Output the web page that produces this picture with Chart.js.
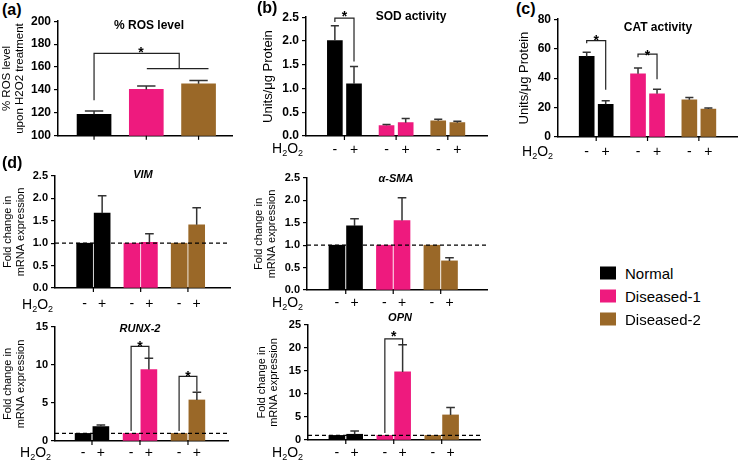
<!DOCTYPE html>
<html>
<head>
<meta charset="utf-8">
<script src="https://cdn.jsdelivr.net/npm/chart.js@4.4.1/dist/chart.umd.min.js"></script>
<style>
html,body{margin:0;padding:0;background:#fff;}
body{width:738px;height:461px;position:relative;overflow:hidden;font-family:"Liberation Sans",Arial,sans-serif;color:#000;}
.t{position:absolute;white-space:nowrap;transform:translate(-50%,-50%);font-weight:bold;font-size:12px;}
.t.i{font-style:italic;font-size:11px;}
.lbl{position:absolute;font-weight:bold;font-size:16px;transform:translateY(-50%);background:#fff;}
.h2{position:absolute;font-size:14px;transform:translateY(-50%);white-space:nowrap;}
.h2 sub{font-size:9px;vertical-align:-3px;}
.leg{position:absolute;left:600px;font-size:15px;transform:translateY(-50%);white-space:nowrap;}
.leg i{display:inline-block;width:16px;height:13px;vertical-align:-1px;margin-right:9px;}
</style>
</head>
<body>
<script>
/* ── DATA ── */
var GROUPS = ['Normal', 'Diseased-1', 'Diseased-2'];
var TREAT = ['-', '+'];

var ROS_MEAN = [118.8, 140.5, 145.4];
var ROS_SEM  = [2.9, 2.9, 2.9];

var SOD_MEAN = [[2.01, 1.10], [0.22, 0.28], [0.32, 0.28]];
var SOD_SEM  = [[0.31, 0.36], [0.02, 0.09], [0.035, 0.03]];

var CAT_MEAN = [[54.7, 22.2], [42.9, 29.4], [25.3, 19.0]];
var CAT_SEM  = [[2.9, 2.5], [3.9, 3.1], [1.6, 0.7]];

var VIM_MEAN = [[1, 1.67], [1, 1.02], [1, 1.41]];
var VIM_SEM  = [[0, 0.39], [0, 0.19], [0, 0.38]];

var SMA_MEAN = [[1, 1.43], [1, 1.55], [1, 0.65]];
var SMA_SEM  = [[0, 0.16], [0, 0.51], [0, 0.07]];

var RUNX_MEAN = [[1, 1.9], [1, 9.4], [1, 5.4]];
var RUNX_SEM  = [[0, 0.2], [0, 1.5], [0, 1.0]];

var OPN_MEAN = [[1, 1.25], [1, 14.8], [1, 5.45]];
var OPN_SEM  = [[0, 0.7], [0, 5.9], [0, 1.6]];

/* significance brackets, in data units (x = bar slot, y = value) */
var ROS_SIG  = [[[0,131],[0,172],[1.63,172],[1.63,158.7]], [[1.01,158.7],[2.19,158.7]]];
var SOD_SIG  = [[[0,2.4],[0,2.48],[1,2.48],[1,1.57]]];
var CAT_SIG  = [[[0,63.7],[0,65.5],[1,65.5],[1,32.1]], [[2.7,54.2],[2.7,56.3],[3.7,56.3],[3.7,39.3]]];
var RUNX_SIG = [[[2.7,1.3],[2.7,12.45],[3.7,12.45],[3.7,10.9]], [[5.4,1.3],[5.4,8.5],[6.4,8.5],[6.4,6.5]]];
var OPN_SIG  = [[[2.7,1.5],[2.7,22],[3.7,22],[3.7,20.7]]];

/* ── STYLE ── */
var COLORS = ['#000000', '#EE1A7E', '#9A6828'];
var GAP = 2.7;
var F = '"Liberation Sans", Arial, sans-serif';

function extras(o){
  return {id:'extras', afterDatasetsDraw:function(c){
    var ctx=c.ctx, xs=c.scales.x, ys=c.scales.y, a=c.chartArea;
    ctx.save();
    // error bars (upper half only)
    c.data.datasets.forEach(function(ds,di){
      c.getDatasetMeta(di).data.forEach(function(bar,i){
        var e=ds.errs[i]; if(!e) return;
        var v=ds.data[i].y, x=bar.x, y0=ys.getPixelForValue(v), y1=ys.getPixelForValue(v+e), hw=bar.width*0.27;
        ctx.strokeStyle='#333'; ctx.lineWidth=1.5;
        ctx.beginPath(); ctx.moveTo(x,y0); ctx.lineTo(x,y1); ctx.moveTo(x-hw,y1); ctx.lineTo(x+hw,y1); ctx.stroke();
      });
    });
    // reference line at 1
    if(o.ref!=null){
      var yr=ys.getPixelForValue(o.ref);
      ctx.setLineDash([4,3]); ctx.strokeStyle='#000'; ctx.lineWidth=1.2;
      ctx.beginPath(); ctx.moveTo(a.left,yr); ctx.lineTo(a.right,yr); ctx.stroke();
      ctx.setLineDash([]);
    }
    // brackets + stars
    (o.sig||[]).forEach(function(b){
      ctx.strokeStyle='#222'; ctx.lineWidth=1.2; ctx.beginPath();
      b.forEach(function(p,j){var px=xs.getPixelForValue(p[0]), py=ys.getPixelForValue(p[1]); if(j) ctx.lineTo(px,py); else ctx.moveTo(px,py);});
      ctx.stroke();
    });
    (o.stars||[]).forEach(function(s){
      ctx.fillStyle='#000'; ctx.font='bold 14px '+F; ctx.textAlign='center'; ctx.textBaseline='alphabetic';
      ctx.fillText('*', xs.getPixelForValue(s[0]), ys.getPixelForValue(s[1])+8);
    });
    // x tick marks
    (o.marks||[]).forEach(function(v){
      var px=xs.getPixelForValue(v);
      ctx.strokeStyle='#000'; ctx.lineWidth=1.2;
      ctx.beginPath(); ctx.moveTo(px,a.bottom); ctx.lineTo(px,a.bottom+4); ctx.stroke();
    });
    ctx.restore();
  }};
}

function panel(p){
  var cv=document.createElement('canvas');
  cv.width=p.box[2]; cv.height=p.box[3];
  cv.style.cssText='position:absolute;left:'+p.box[0]+'px;top:'+p.box[1]+'px;';
  document.body.appendChild(cv);
  var paired=Array.isArray(p.mean[0]);
  var slots=[];
  var datasets=GROUPS.map(function(name,g){
    var m=paired?p.mean[g]:[p.mean[g]], e=paired?p.sem[g]:[p.sem[g]];
    return {
      label:name,
      data:m.map(function(v,k){var x=paired?g*GAP+k:g; slots.push(x); return {x:x,y:v};}),
      errs:e, backgroundColor:COLORS[g], borderWidth:0, grouped:false, barThickness:p.bw
    };
  });
  slots.sort(function(a,b){return a-b;});
  new Chart(cv.getContext('2d'),{
    type:'bar',
    data:{datasets:datasets},
    options:{
      responsive:false, animation:false,
      layout:{padding:{top:p.pt,right:p.pr,left:0,bottom:0}},
      plugins:{legend:{display:false},tooltip:{enabled:false}},
      scales:{
        x:{type:'linear', min:p.xr[0], max:p.xr[1],
           border:{display:true,color:'#000',width:1.5},
           grid:{display:false,drawTicks:false},
           afterBuildTicks:function(s){ s.ticks=paired?slots.map(function(v){return {value:v};}):[]; },
           ticks:{display:paired, autoSkip:false, maxRotation:0, minRotation:0, padding:p.sp,
                  font:{size:14,family:F}, color:'#000',
                  callback:function(v,i){return TREAT[i%2];}},
           afterFit:function(s){s.height=p.xh;}},
        y:{min:p.yr[0], max:p.yr[1],
           ticks:{stepSize:p.step, color:'#000', font:{size:p.tf,weight:'bold',family:F}, padding:3,
                  callback:function(v){return v.toFixed(p.dec);}},
           grid:{drawOnChartArea:false, drawTicks:true, tickLength:4, color:'#000', lineWidth:1.2},
           border:{color:'#000', width:1.5},
           title:{display:true, text:p.title, color:'#000', font:{size:p.yf,family:F,lineHeight:p.lh}, padding:{top:p.tp,bottom:0}},
           afterFit:function(s){s.width=p.yw;}}
      }
    },
    plugins:[extras(p)]
  });
}

var PAIR_MARKS=[0.5, 0.5+GAP, 0.5+2*GAP];

panel({box:[0,11,240,135], yw:58, pt:10, pr:8, xh:10, sp:0, bw:34, xr:[-0.69,2.64],
  mean:ROS_MEAN, sem:ROS_SEM, yr:[100,200], step:20, dec:0, tf:12,
  title:['% ROS level','upon H2O2 treatment'], yf:11.5, lh:1.1, tp:1,
  sig:ROS_SIG, stars:[[0.9,175.6]], marks:[0,1,2]});

panel({box:[258,7,235,154], yw:48, pt:10, pr:6, xh:25, sp:6, bw:15, xr:[-0.72,7.16],
  mean:SOD_MEAN, sem:SOD_SEM, yr:[0,2.5], step:0.5, dec:1, tf:12,
  title:'Units/\u03bcg Protein', yf:13, lh:1.2, tp:3,
  sig:SOD_SIG, stars:[[0.5,2.58]], marks:PAIR_MARKS});

panel({box:[510,9,228,153], yw:48, pt:10, pr:0, xh:25, sp:6.5, bw:15, xr:[-0.72,7.17],
  mean:CAT_MEAN, sem:CAT_SEM, yr:[0,80], step:20, dec:0, tf:12,
  title:'Units/\u03bcg Protein', yf:13, lh:1.2, tp:6.7,
  sig:CAT_SIG, stars:[[0.5,67.8],[3.2,57.8]], marks:PAIR_MARKS});

panel({box:[0,166,238,147], yw:55, pt:10, pr:8, xh:25, sp:8, bw:16, xr:[-0.86,7.47],
  mean:VIM_MEAN, sem:VIM_SEM, yr:[0,2.5], step:0.5, dec:1, tf:11,
  title:['Fold change in','mRNA expression'], yf:11, lh:1.15, tp:2,
  ref:1, marks:PAIR_MARKS});

panel({box:[250,168,243,147], yw:57, pt:10, pr:6, xh:25, sp:5, bw:16, xr:[-0.85,7.68],
  mean:SMA_MEAN, sem:SMA_SEM, yr:[0,2.5], step:0.5, dec:1, tf:11,
  title:['Fold change in','mRNA expression'], yf:11, lh:1.15, tp:2.7,
  ref:1, marks:PAIR_MARKS});

panel({box:[0,317,236,144], yw:55, pt:10, pr:8, xh:20, sp:4, bw:16, xr:[-0.77,7.34],
  mean:RUNX_MEAN, sem:RUNX_SEM, yr:[0,15], step:5, dec:0, tf:11,
  title:['Fold change in','mRNA expression'], yf:11, lh:1.15, tp:1.7,
  ref:1, sig:RUNX_SIG, stars:[[3.2,12.9],[5.9,8.95]], marks:PAIR_MARKS});

panel({box:[250,315,236,146], yw:58, pt:10, pr:6, xh:21, sp:5, bw:16, xr:[-0.82,7.25],
  mean:OPN_MEAN, sem:OPN_SEM, yr:[0,25], step:5, dec:0, tf:11,
  title:['Fold change in','mRNA expression'], yf:11, lh:1.15, tp:5.2,
  ref:1, sig:OPN_SIG, stars:[[3.2,23.3]], marks:PAIR_MARKS});

/* ── TEXT OVERLAYS ── */
function txt(cls,html,x,y){var d=document.createElement('div');d.className=cls;d.innerHTML=html;d.style.left=x+'px';d.style.top=y+'px';document.body.appendChild(d);}
txt('lbl','(a)',2,10); txt('lbl','(b)',257,8); txt('lbl','(c)',516,9); txt('lbl','(d)',2,163);
txt('t','% ROS level',149,25); txt('t','SOD activity',411,16); txt('t','CAT activity',658,27);
txt('t i','VIM',143,174); txt('t i','\u03b1-SMA',396,178); txt('t i','RUNX-2',140,328); txt('t i','OPN',400,317);
var H2='H<sub>2</sub>O<sub>2</sub>';
txt('h2',H2,272,149); txt('h2',H2,522,152); txt('h2',H2,22,305); txt('h2',H2,272,303); txt('h2',H2,20,453); txt('h2',H2,272,453);
GROUPS.forEach(function(g,i){txt('leg','<i style="background:'+COLORS[i]+'"></i>'+g,600,273+i*23);});
</script>
</body>
</html>
